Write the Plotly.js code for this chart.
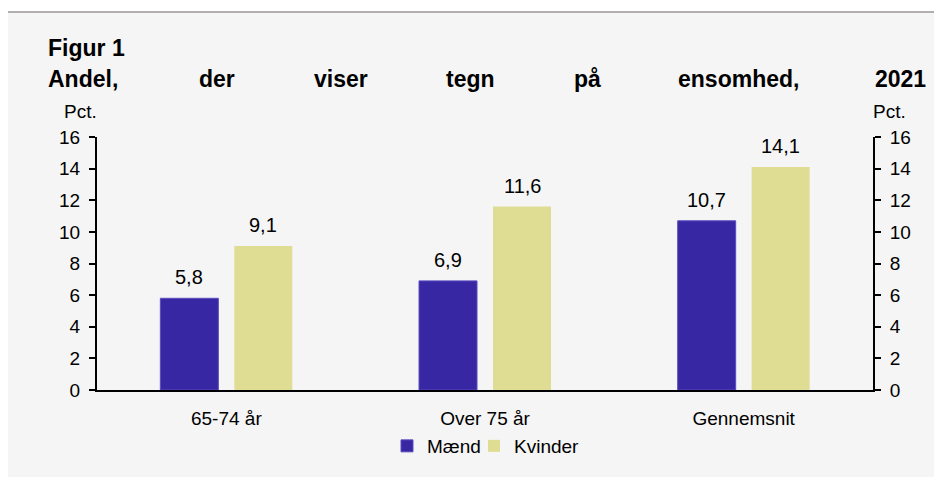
<!DOCTYPE html>
<html>
<head>
<meta charset="utf-8">
<script src="https://cdn.plot.ly/plotly-3.0.1.min.js"></script>
<style>body{margin:0;background:#fff;} #chart{width:934px;height:477px;}</style>
</head>
<body>
<div id="chart"></div>
<script>
const categories = ["65-74 år", "Over 75 år", "Gennemsnit"];
const maend = [5.8, 6.9, 10.7];
const kvinder = [9.1, 11.6, 14.1];
const seriesNames = ["Mænd", "Kvinder"];
const figurLabel = "Figur 1";
const titleWords = ["Andel,", "der", "viser", "tegn", "på", "ensomhed,", "2021"];
const unitLabel = "Pct.";
const tickVals = [0, 2, 4, 6, 8, 10, 12, 14, 16];

const W = 934, H = 477;
const M = {l: 97, r: 61, t: 137, b: 87};
const PW = W - M.l - M.r, PH = H - M.t - M.b;
const px = x => (x - M.l) / PW;
const py = y => (H - M.b - y) / PH;

const FONT = "Liberation Sans, Arial, sans-serif";
const colM = "#3727a3", colK = "#dedd93";

const traces = [
  {type: "bar", name: seriesNames[0], x: categories, y: maend, legend: "legend", marker: {color: colM, line: {color: "#5a4cc0", width: 1}}, hoverinfo: "y"},
  {type: "bar", name: seriesNames[1], x: categories, y: kvinder, legend: "legend2", marker: {color: colK, line: {width: 0}}, hoverinfo: "y"},
  {type: "scatter", x: categories, y: [null, null, null], yaxis: "y2", showlegend: false, hoverinfo: "skip"}
];

const annotations = [];
const fmt = v => v.toFixed(1).replace(".", ",");
categories.forEach((c, i) => {
  annotations.push({x: c, y: maend[i], xref: "x", yref: "y", text: fmt(maend[i]), showarrow: false, xshift: -37, yshift: 8, yanchor: "bottom", font: {size: 20, color: "#000", family: FONT}});
  annotations.push({x: c, y: kvinder[i], xref: "x", yref: "y", text: fmt(kvinder[i]), showarrow: false, xshift: 37, yshift: 8, yanchor: "bottom", font: {size: 20, color: "#000", family: FONT}});
});
annotations.push({xref: "paper", yref: "paper", x: px(46), y: py(48), xanchor: "left", yanchor: "middle", text: "<b>" + figurLabel + "</b>", showarrow: false, font: {size: 23, color: "#000", family: FONT}});
const wordX = [46, 197, 312, 444, 572, 676, 873];
titleWords.forEach((w, i) => {
  annotations.push({xref: "paper", yref: "paper", x: px(wordX[i]), y: py(79), xanchor: "left", yanchor: "middle", text: "<b>" + w + "</b>", showarrow: false, font: {size: 23, color: "#000", family: FONT}});
});
annotations.push({xref: "paper", yref: "paper", x: px(80), y: py(112), xanchor: "center", yanchor: "middle", text: unitLabel, showarrow: false, font: {size: 19, color: "#000", family: FONT}});
annotations.push({xref: "paper", yref: "paper", x: px(889), y: py(112), xanchor: "center", yanchor: "middle", text: unitLabel, showarrow: false, font: {size: 19, color: "#000", family: FONT}});

const axisCommon = {range: [0, 16], tickvals: tickVals, ticks: "outside", ticklen: 6, tickwidth: 2, tickcolor: "#000", showline: true, linecolor: "#000", linewidth: 2, showgrid: false, zeroline: false, tickfont: {size: 19, color: "#000", family: FONT}, fixedrange: true};

const legendCommon = {orientation: "h", xanchor: "left", y: py(446), yanchor: "middle", font: {size: 19, color: "#000", family: FONT}, bgcolor: "rgba(0,0,0,0)", itemwidth: 30};

const layout = {
  width: W, height: H,
  margin: M,
  paper_bgcolor: "#ffffff",
  plot_bgcolor: "rgba(0,0,0,0)",
  separators: ",.",
  barmode: "group",
  bargap: 0.428,
  bargroupgap: 0.216,
  font: {family: FONT, color: "#000"},
  showlegend: true,
  legend: Object.assign({}, legendCommon, {x: px(387)}),
  legend2: Object.assign({}, legendCommon, {x: px(474)}),
  xaxis: {showline: true, linecolor: "#000", linewidth: 2, ticks: "", showgrid: false, zeroline: false, tickfont: {size: 19, color: "#000", family: FONT}, ticklabelstandoff: 10, fixedrange: true},
  yaxis: Object.assign({}, axisCommon, {side: "left", ticklabelstandoff: 5}),
  yaxis2: Object.assign({}, axisCommon, {side: "right", overlaying: "y", ticklabelstandoff: 5}),
  shapes: [
    {type: "rect", xref: "paper", yref: "paper", x0: px(8), x1: px(934), y0: py(477), y1: py(13), fillcolor: "#f5f5f5", line: {width: 0}, layer: "below"},
    {type: "line", xref: "paper", yref: "paper", x0: px(8), x1: px(934), y0: py(12), y1: py(12), line: {color: "#b3afaf", width: 2}, layer: "below"}
  ],
  annotations: annotations
};

Plotly.newPlot("chart", traces, layout, {displayModeBar: false, staticPlot: true});
</script>
</body>
</html>
